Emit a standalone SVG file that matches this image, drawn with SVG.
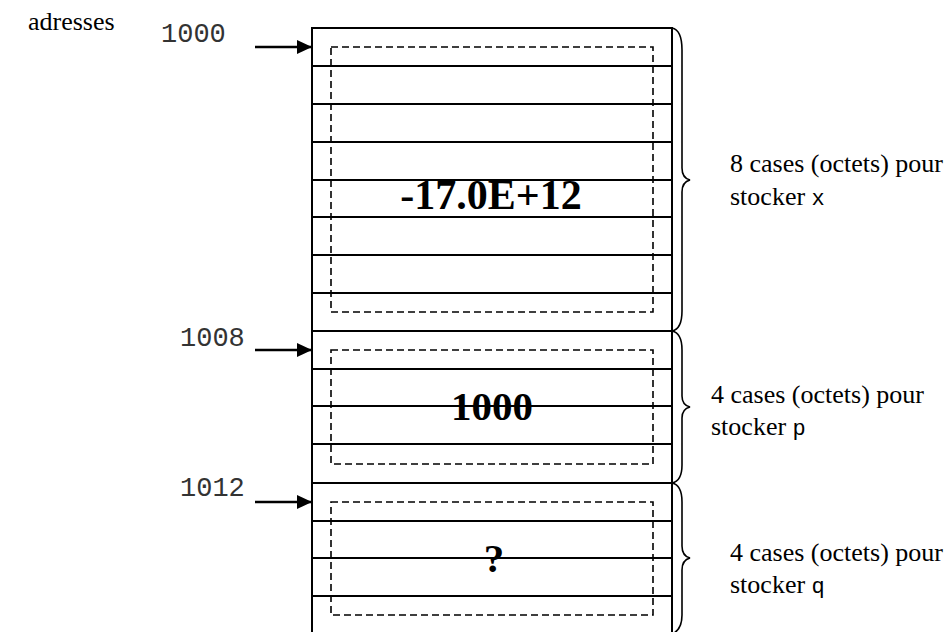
<svg xmlns="http://www.w3.org/2000/svg" width="952" height="632" viewBox="0 0 952 632">
<defs>
<style>
.box{fill:none;stroke:#000;stroke-width:2}
.row{stroke:#000;stroke-width:2}
.dash{fill:none;stroke:#000;stroke-width:1.6;stroke-dasharray:7 4}
.brace{fill:none;stroke:#000;stroke-width:1.6}
.arrow{stroke:#000;stroke-width:2.6;fill:none}
</style>
<marker id="ah" markerWidth="15" markerHeight="14" refX="15" refY="7" orient="auto" markerUnits="userSpaceOnUse">
<path d="M0,0 L15,7 L0,14 Z" fill="#000"/>
</marker>
</defs>

<text x="28" y="30" font-family="'Liberation Serif','Times New Roman',serif" font-size="26" fill="#000">adresses</text>

<g id="memory">
<rect class="box" x="312" y="28" width="360" height="606"/>
<g id="rows">
<line class="row" x1="312" y1="66" x2="672" y2="66"/>
<line class="row" x1="312" y1="104" x2="672" y2="104"/>
<line class="row" x1="312" y1="142" x2="672" y2="142"/>
<line class="row" x1="312" y1="180" x2="672" y2="180"/>
<line class="row" x1="312" y1="217" x2="672" y2="217"/>
<line class="row" x1="312" y1="255" x2="672" y2="255"/>
<line class="row" x1="312" y1="293" x2="672" y2="293"/>
<line class="row" x1="312" y1="331" x2="672" y2="331"/>
<line class="row" x1="312" y1="369" x2="672" y2="369"/>
<line class="row" x1="312" y1="406" x2="672" y2="406"/>
<line class="row" x1="312" y1="444" x2="672" y2="444"/>
<line class="row" x1="312" y1="483" x2="672" y2="483"/>
<line class="row" x1="312" y1="521" x2="672" y2="521"/>
<line class="row" x1="312" y1="558" x2="672" y2="558"/>
<line class="row" x1="312" y1="596" x2="672" y2="596"/>
</g>
</g>

<g id="var-x">
<rect class="dash" x="331" y="47" width="322" height="265"/>
<text x="491" y="209" font-family="'Liberation Serif','Times New Roman',serif" font-weight="bold" font-size="42" text-anchor="middle" fill="#000">-17.0E+12</text>
</g>
<g id="var-p">
<rect class="dash" x="331" y="350" width="322" height="114"/>
<text x="492" y="420" font-family="'Liberation Serif','Times New Roman',serif" font-weight="bold" font-size="41" text-anchor="middle" fill="#000">1000</text>
</g>
<g id="var-q">
<rect class="dash" x="331" y="502" width="322" height="113"/>
<text x="494" y="572" font-family="'Liberation Serif','Times New Roman',serif" font-weight="bold" font-size="41" text-anchor="middle" fill="#000">?</text>
</g>

<g id="addr-1000">
<text x="161" y="42" font-family="'Liberation Mono','Courier New',monospace" font-size="27" fill="#333">1000</text>
</g>
<g id="addr-1008">
<text x="180" y="346" font-family="'Liberation Mono','Courier New',monospace" font-size="27" fill="#333">1008</text>
</g>
<g id="addr-1012">
<text x="180" y="496" font-family="'Liberation Mono','Courier New',monospace" font-size="27" fill="#333">1012</text>
</g>

<g id="connectors">
<line class="arrow" x1="255" y1="47" x2="312" y2="47" marker-end="url(#ah)"/>
<line class="arrow" x1="255" y1="350" x2="312" y2="350" marker-end="url(#ah)"/>
<line class="arrow" x1="255" y1="502" x2="312" y2="502" marker-end="url(#ah)"/>
</g>

<g id="brace-x">
<path class="brace" d="M672,28 Q682,30 682,50 L682,168 Q682,178 690,180 Q682,182 682,192 L682,311 Q682,329 672,331"/>
<text x="730" y="172" font-family="'Liberation Serif','Times New Roman',serif" font-size="26" fill="#000">8 cases (octets) pour</text>
<text x="730" y="205" font-family="'Liberation Serif','Times New Roman',serif" font-size="26" fill="#000">stocker <tspan font-family="'Liberation Mono','Courier New',monospace" font-size="22">x</tspan></text>
</g>
<g id="brace-p">
<path class="brace" d="M672,331 Q682,333 682,350 L682,396 Q682,405 690,407 Q682,409 682,418 L682,465 Q682,481 672,483"/>
<text x="711" y="403" font-family="'Liberation Serif','Times New Roman',serif" font-size="26" fill="#000">4 cases (octets) pour</text>
<text x="711" y="435" font-family="'Liberation Serif','Times New Roman',serif" font-size="26" fill="#000">stocker <tspan font-family="'Liberation Mono','Courier New',monospace" font-size="22">p</tspan></text>
</g>
<g id="brace-q">
<path class="brace" d="M672,483 Q682,485 682,502 L682,546 Q682,556 690,558 Q682,560 682,570 L682,615 Q682,630 672,634"/>
<text x="730" y="561" font-family="'Liberation Serif','Times New Roman',serif" font-size="26" fill="#000">4 cases (octets) pour</text>
<text x="730" y="593" font-family="'Liberation Serif','Times New Roman',serif" font-size="26" fill="#000">stocker <tspan font-family="'Liberation Mono','Courier New',monospace" font-size="22">q</tspan></text>
</g>
</svg>
